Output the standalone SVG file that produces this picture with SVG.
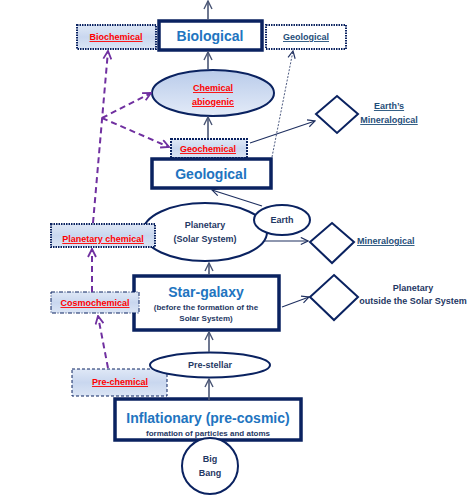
<svg xmlns="http://www.w3.org/2000/svg" width="472" height="497" viewBox="0 0 472 497">
<defs>
<linearGradient id="gBox" x1="0" y1="0" x2="0" y2="1">
<stop offset="0" stop-color="#dfe8f6"/>
<stop offset="0.5" stop-color="#c9d7ef"/>
<stop offset="1" stop-color="#dbe5f5"/>
</linearGradient>
<linearGradient id="gEll" x1="0" y1="0" x2="0" y2="1">
<stop offset="0" stop-color="#b9cbea"/>
<stop offset="1" stop-color="#e3ebf8"/>
</linearGradient>
<marker id="aN" viewBox="0 0 10 10" refX="9" refY="5" markerWidth="9" markerHeight="9" markerUnits="userSpaceOnUse" orient="auto">
<path d="M1,1 L9,5 L1,9" fill="none" stroke="#1f3060" stroke-width="1.3"/>
</marker>
<marker id="aG" viewBox="0 0 10 10" refX="9" refY="5" markerWidth="10" markerHeight="10" markerUnits="userSpaceOnUse" orient="auto">
<path d="M1,1 L9,5 L1,9" fill="none" stroke="#4a5675" stroke-width="1.4"/>
</marker>
<marker id="aP" viewBox="0 0 10 10" refX="9" refY="5" markerWidth="10" markerHeight="10" markerUnits="userSpaceOnUse" orient="auto">
<path d="M1,1 L9,5 L1,9" fill="none" stroke="#7030a0" stroke-width="1.8"/>
</marker>
</defs>
<style>
text{font-family:"Liberation Sans",Arial,sans-serif;text-anchor:middle}
.big{font-size:14px;font-weight:bold;fill:#2174c0}
.sm{font-size:8px;font-weight:bold;fill:#1f3864}
.lab{font-size:9px;font-weight:bold;fill:#1f3864}
.red{font-size:9px;font-weight:bold;fill:#ff0000;text-decoration:underline}
.ul{font-size:9px;font-weight:bold;fill:#1f4e79;text-decoration:underline}
.thick{fill:#fff;stroke:#0a2260;stroke-width:3.5}
.shape{fill:#fff;stroke:#0a2260;stroke-width:2}
.vline{stroke:#4a5675;stroke-width:1.6;fill:none;marker-end:url(#aG)}
.nline{stroke:#1f3060;stroke-width:1.1;fill:none;marker-end:url(#aN)}
.pline{stroke:#7030a0;stroke-width:2;stroke-dasharray:6,4;fill:none}
.parr{marker-end:url(#aP)}
</style>

<g id="biochemical">
<rect x="77" y="25" width="79" height="24" fill="url(#gBox)" stroke="#0a2260" stroke-width="2" stroke-dasharray="1.5,1"/>
<text class="red" x="116" y="40">Biochemical</text>
</g>
<g id="biological">
<rect class="thick" x="159" y="21" width="103" height="29"/>
<text class="big" x="210" y="41">Biological</text>
</g>
<g id="geological-top">
<rect x="266" y="25" width="80" height="24" fill="#fff" stroke="#0a2260" stroke-width="2" stroke-dasharray="1.5,1"/>
<text class="ul" x="306" y="40">Geological</text>
</g>
<g id="chemical-abiogenic">
<ellipse cx="213" cy="93" rx="61" ry="23" fill="url(#gEll)" stroke="#0a2260" stroke-width="2"/>
<text class="red" x="213" y="91">Chemical</text>
<text class="red" x="213" y="105">abiogenic</text>
</g>
<g id="geochemical">
<rect x="171" y="139" width="76" height="19" fill="url(#gBox)" stroke="#0a2260" stroke-width="2" stroke-dasharray="2,1"/>
<text class="red" x="208" y="152">Geochemical</text>
</g>
<g id="geological">
<rect class="thick" x="152" y="159" width="119" height="29"/>
<text class="big" x="211" y="179">Geological</text>
</g>
<g id="earths-mineralogical">
<polygon class="shape" points="337,96 358,114 337,133 316,114"/>
<text class="ul" x="389" y="109">Earth’s</text>
<text class="ul" x="389" y="123">Mineralogical</text>
</g>
<g id="planetary">
<ellipse class="shape" cx="205" cy="232" rx="62" ry="29"/>
<text class="lab" x="205" y="228">Planetary</text>
<text class="lab" x="205" y="242">(Solar System)</text>
</g>
<g id="planetary-chemical">
<rect x="51" y="224" width="104" height="23" fill="url(#gBox)" stroke="#0a2260" stroke-width="2" stroke-dasharray="1.5,1"/>
<text class="red" x="103" y="242">Planetary chemical</text>
</g>
<g id="earth">
<ellipse class="shape" cx="282" cy="220" rx="28" ry="15"/>
<text class="lab" x="282" y="223">Earth</text>
</g>
<g id="mineralogical">
<polygon class="shape" points="332,223 354,242 332,263 310,242"/>
<text class="ul" x="357" y="244" style="text-anchor:start">Mineralogical</text>
</g>
<g id="star-galaxy">
<rect class="thick" x="134" y="276" width="145" height="54"/>
<text class="big" x="206" y="297">Star-galaxy</text>
<text class="sm" x="206" y="310">(before the formation of the</text>
<text class="sm" x="206" y="321">Solar System)</text>
</g>
<g id="cosmochemical">
<rect x="51" y="292" width="88" height="21" fill="url(#gBox)" stroke="#0a2260" stroke-width="1" stroke-dasharray="4,1.5,1,1.5"/>
<text class="red" x="95" y="306">Cosmochemical</text>
</g>
<g id="planetary-outside">
<polygon class="shape" points="334,275 358,297 334,320 310,297"/>
<text class="lab" x="413" y="291">Planetary</text>
<text class="lab" x="413" y="304">outside the Solar System</text>
</g>
<g id="pre-chemical">
<rect x="72" y="369" width="95" height="27" fill="url(#gBox)" stroke="#0a2260" stroke-width="1" stroke-dasharray="3,2"/>
<text class="red" x="120" y="385">Pre-chemical</text>
</g>
<g id="pre-stellar">
<ellipse class="shape" cx="210" cy="365" rx="60" ry="12.5"/>
<text class="lab" x="210" y="368">Pre-stellar</text>
</g>
<g id="inflationary">
<rect class="thick" x="115" y="399" width="186" height="41"/>
<text class="big" x="208" y="423">Inflationary (pre-cosmic)</text>
<text class="sm" x="208" y="436">formation of particles and atoms</text>
</g>
<g id="big-bang">
<circle class="shape" cx="210" cy="466" r="28"/>
<text class="lab" x="210" y="462">Big</text>
<text class="lab" x="210" y="476">Bang</text>
</g>

<g id="connectors">
<line class="vline" x1="208" y1="20" x2="208" y2="1"/>
<line class="vline" x1="208" y1="69" x2="208" y2="52"/>
<line class="vline" x1="208" y1="138" x2="208" y2="117"/>
<line x1="272" y1="157" x2="293" y2="51" stroke="#1f3060" stroke-width="0.8" stroke-dasharray="2,1.5" fill="none" marker-end="url(#aN)"/>
<line class="nline" x1="250" y1="143" x2="315" y2="121"/>
<line class="nline" x1="262" y1="206" x2="212" y2="190"/>
<line class="nline" x1="264" y1="241" x2="308" y2="241"/>
<line class="vline" x1="209" y1="275" x2="209" y2="263"/>
<line class="nline" x1="282" y1="307" x2="309" y2="297"/>
<line class="vline" x1="209" y1="352" x2="209" y2="332"/>
<line class="vline" x1="209" y1="401" x2="209" y2="379"/>
<line class="pline parr" x1="108" y1="368" x2="98" y2="316"/>
<line class="pline parr" x1="92" y1="292" x2="92" y2="249"/>
<line class="pline parr" x1="93" y1="223" x2="108" y2="51"/>
<line class="pline parr" x1="102" y1="118" x2="151" y2="93"/>
<line class="pline parr" x1="102" y1="118" x2="169" y2="147"/>
</g>
</svg>
